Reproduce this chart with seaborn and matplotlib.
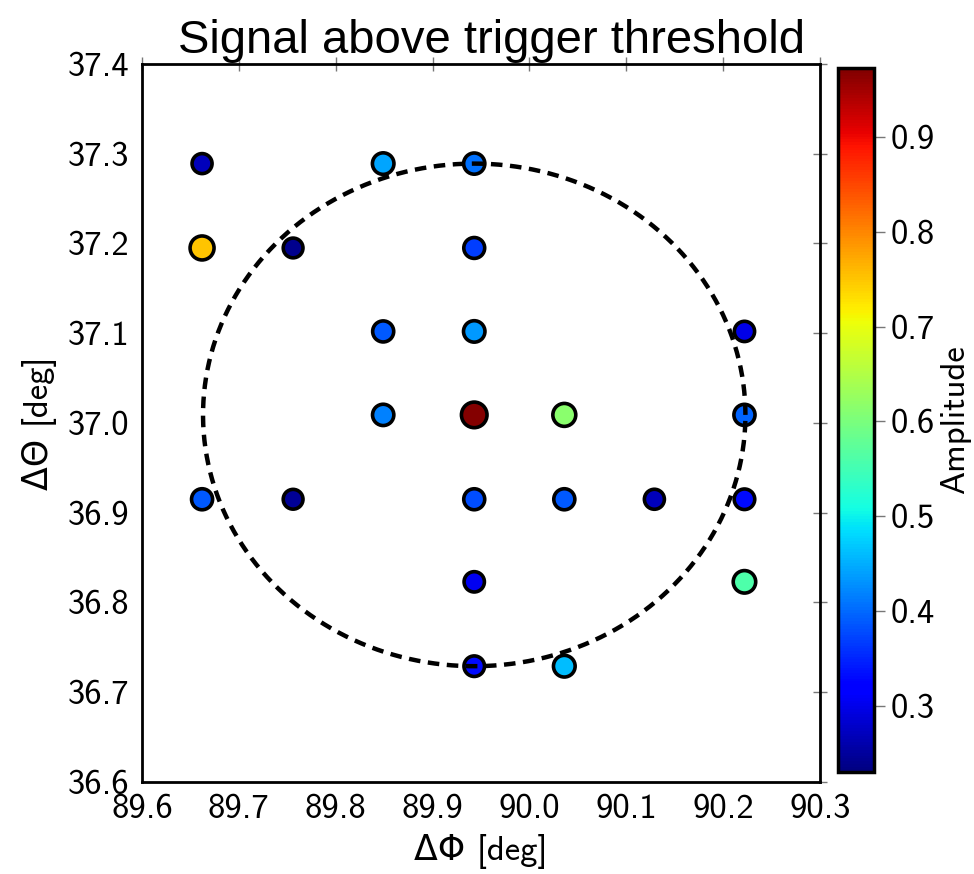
import numpy as np
import pandas as pd
import matplotlib
matplotlib.use("Agg")
import matplotlib.pyplot as plt
import seaborn as sns
from matplotlib.colors import Normalize
from matplotlib.cm import ScalarMappable

# ---- data ----
delta_phi = [89.662, 89.849, 89.943,
             89.662, 89.756, 89.943,
             89.849, 89.943, 90.222,
             89.849, 89.943, 90.036, 90.222,
             89.662, 89.756, 89.943, 90.036, 90.129, 90.222,
             89.943, 90.222,
             89.943, 90.036]
delta_theta = [37.289, 37.289, 37.289,
               37.195, 37.195, 37.195,
               37.102, 37.102, 37.102,
               37.009, 37.009, 37.009, 37.009,
               36.915, 36.915, 36.915, 36.915, 36.915, 36.915,
               36.823, 36.823,
               36.729, 36.729]
amplitude = [0.27, 0.444, 0.406,
             0.75, 0.24, 0.369,
             0.388, 0.434, 0.297,
             0.416, 0.97, 0.616, 0.397,
             0.388, 0.245, 0.379, 0.388, 0.27, 0.33,
             0.305, 0.56,
             0.33, 0.462]
circle_center = (89.943, 37.009)
circle_radius = 0.28
amp_range = (0.23, 0.973)
x_ticks = [89.6, 89.7, 89.8, 89.9, 90.0, 90.1, 90.2, 90.3]
y_ticks = [36.6, 36.7, 36.8, 36.9, 37.0, 37.1, 37.2, 37.3, 37.4]
cbar_ticks = [0.3, 0.4, 0.5, 0.6, 0.7, 0.8, 0.9]

df = pd.DataFrame({"phi": delta_phi, "theta": delta_theta, "amp": amplitude})

sns.set_style("white")
plt.rcParams["font.family"] = ["cmss10", "DejaVu Sans"]
plt.rcParams["axes.formatter.use_mathtext"] = True
plt.rcParams["axes.unicode_minus"] = False
for k in ["text.color", "axes.labelcolor", "xtick.labelcolor", "ytick.labelcolor"]:
    plt.rcParams[k] = "black"

fig = plt.figure(figsize=(9.74, 8.74), dpi=100)
ax = fig.add_axes([0.1458, 0.1053, 0.6961, 0.8215])
cax = fig.add_axes([0.8604, 0.1167, 0.037, 0.8055])

jet = matplotlib.colormaps["jet"]
norm = Normalize(vmin=amp_range[0], vmax=amp_range[1])
sns.scatterplot(data=df, x="phi", y="theta", hue="amp", palette=jet,
                hue_norm=norm, size="amp", sizes=(200, 340),
                size_norm=amp_range, edgecolor="black", linewidth=2.6,
                legend=False, ax=ax, zorder=2)

t = np.linspace(0, 2 * np.pi, 400)
ax.plot(circle_center[0] + circle_radius * np.cos(t),
        circle_center[1] + circle_radius * np.sin(t),
        color="black", linestyle=(0, (2.6, 1.7)), linewidth=3.2, zorder=3)

ax.set_xlim(89.6, 90.3)
ax.set_ylim(36.6, 37.4)
ax.set_xticks(x_ticks)
ax.set_yticks(y_ticks)
ax.set_xticklabels([f"{v:.1f}" for v in x_ticks])
ax.set_yticklabels([f"{v:.1f}" for v in y_ticks])
ax.tick_params(axis="both", which="major", direction="inout", length=10,
               width=1, color="#777777", labelcolor="black", labelsize=25,
               top=True, right=True, pad=4)
for sp in ax.spines.values():
    sp.set_linewidth(2)
    sp.set_color("black")
ax.set_xlabel("ΔΦ [deg]", fontsize=25, labelpad=6, color="black")
ax.set_ylabel("ΔΘ [deg]", fontsize=25, labelpad=8, color="black")
ax.set_title("Signal above trigger threshold", fontsize=34, color="black",
             family=["Liberation Sans Narrow", "Liberation Sans", "DejaVu Sans"],
             pad=8, x=0.515)

sm = ScalarMappable(norm=norm, cmap=jet)
cb = fig.colorbar(sm, cax=cax)
cb.set_ticks(cbar_ticks)
cb.set_ticklabels([f"{v:.1f}" for v in cbar_ticks])
cb.ax.tick_params(direction="out", length=8, width=1, color="#777777",
                  labelcolor="black", labelsize=25, pad=4)
cb.outline.set_linewidth(2.5)
cb.outline.set_edgecolor("black")
cb.set_label("Amplitude", fontsize=25, labelpad=4, color="black")

fig.savefig("out.png", dpi=100)
